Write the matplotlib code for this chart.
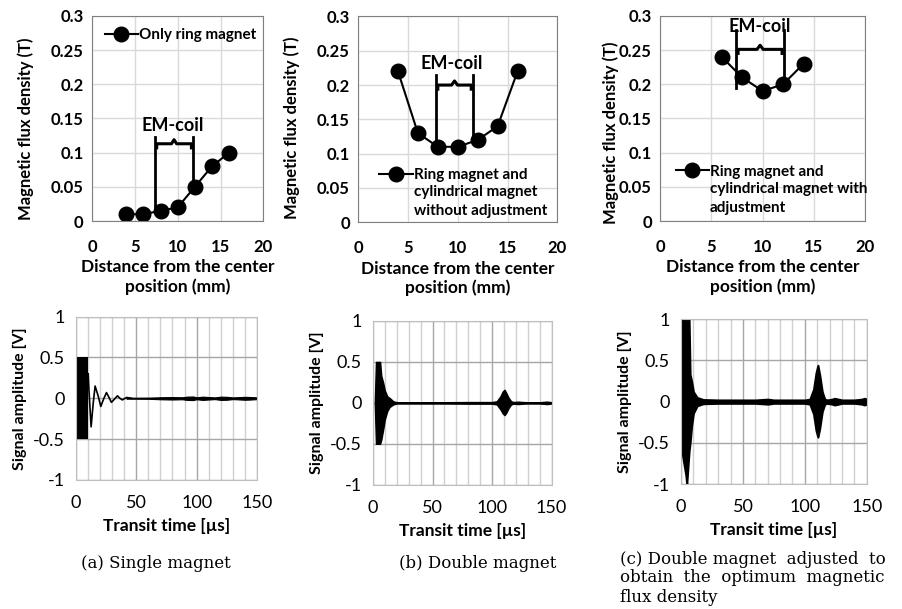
import matplotlib
matplotlib.use("Agg")
import matplotlib.pyplot as plt
from matplotlib.ticker import MultipleLocator, FuncFormatter

SANS = "Lato"
SERIF = "DejaVu Serif"

# ---- top row: flux density vs distance ----
dist_a = [4, 6, 8, 10, 12, 14, 16]
flux_a = [0.01, 0.01, 0.015, 0.02, 0.05, 0.08, 0.10]
dist_b = [4, 6, 8, 10, 12, 14, 16]
flux_b = [0.22, 0.13, 0.11, 0.11, 0.12, 0.14, 0.22]
dist_c = [6, 8, 10, 12, 14]
flux_c = [0.24, 0.21, 0.19, 0.20, 0.23]

labels_top = [["Only ring magnet"],
              ["Ring magnet and", "cylindrical magnet", "without adjustment"],
              ["Ring magnet and", "cylindrical magnet with", "adjustment"]]

# EM-coil bracket: left x, right x, brace y, top y, left bottom y, right bottom y, text x, text y
coil_a = (7.35, 11.8, 0.113, 0.123, 0.016, 0.05, 9.4, 0.14)
coil_b = (7.8, 11.55, 0.200, 0.214, 0.110, 0.119, 9.4, 0.232)
coil_c = (7.4, 12.1, 0.251, 0.279, 0.194, 0.201, 9.7, 0.285)

# ---- bottom row: signal envelopes ----
burst_a_t = [0.3, 10.3]
burst_a_up = [0.5, 0.5]
burst_a_lo = [-0.5, -0.5]
ring_a_t = [10.3, 10.9, 12.7, 14.5, 16.0, 18.5, 20.7, 23.0, 25.4, 27.5, 29.5, 32.0,
            34.5, 36.5, 38.5, 42.0, 46.0]
ring_a_v = [0.3, 0.1, -0.35, -0.05, 0.15, 0.03, -0.10, -0.01, 0.07, 0.01, -0.05, -0.01,
            0.03, 0.0, -0.02, 0.01, 0.0]
noise_a_t = [42, 60, 70, 80, 88, 92, 97, 100, 105, 110, 115, 120, 125, 130, 140, 145, 150]
noise_a_up = [0.004, 0.006, 0.012, 0.015, 0.012, 0.02, 0.022, 0.012, 0.02, 0.015,
              0.01, 0.02, 0.018, 0.01, 0.018, 0.015, 0.01]
noise_a_lo = [-0.004, -0.006, -0.012, -0.015, -0.012, -0.02, -0.022, -0.012, -0.02, -0.015,
              -0.01, -0.02, -0.018, -0.01, -0.018, -0.015, -0.01]

sig_b_t = [1.5, 2.5, 6.0, 7.0, 8.5, 10.0, 12.0, 14.0, 17.0, 20.0, 60, 80, 100, 104, 107,
           109, 110.5, 112, 114, 116, 118, 122, 126, 130, 140, 146, 148, 150]
sig_b_up = [0.0, 0.5, 0.5, 0.33, 0.25, 0.15, 0.08, 0.06, 0.02, 0.008, 0.008, 0.01, 0.01,
            0.02, 0.08, 0.14, 0.16, 0.12, 0.06, 0.02, 0.01, 0.015, 0.01, 0.008, 0.008,
            0.015, 0.012, 0.008]
sig_b_lo = [0.0, -0.5, -0.5, -0.45, -0.33, -0.2, -0.1, -0.05, -0.02, -0.008, -0.008, -0.01,
            -0.01, -0.02, -0.08, -0.13, -0.15, -0.12, -0.06, -0.02, -0.01, -0.015, -0.01,
            -0.008, -0.008, -0.015, -0.012, -0.008]

sig_c_t = [0.4, 1.0, 4.0, 4.6, 6.5, 7.3, 8.5, 10.0, 13.0, 18.0, 30, 60, 70, 75, 90, 100,
           104, 107, 109, 110.5, 112, 114, 116, 118, 122, 124, 130, 140, 146, 148, 150]
sig_c_up = [0.6, 1.0, 1.0, 1.0, 1.0, 0.33, 0.25, 0.12, 0.05, 0.025, 0.02, 0.02, 0.03, 0.02,
            0.02, 0.02, 0.03, 0.15, 0.35, 0.44, 0.32, 0.12, 0.03, 0.02, 0.03, 0.04, 0.02,
            0.02, 0.03, 0.04, 0.03]
sig_c_lo = [-0.4, -0.63, -0.9, -1.0, -0.6, -0.5, -0.3, -0.14, -0.05, -0.025, -0.02, -0.02,
            -0.03, -0.02, -0.02, -0.02, -0.03, -0.15, -0.35, -0.43, -0.32, -0.12, -0.03,
            -0.02, -0.03, -0.04, -0.02, -0.02, -0.03, -0.04, -0.03]

captions = ["(a) Single magnet", "(b) Double magnet"]
caption_c = ["(c) Double magnet  adjusted  to",
             "obtain  the  optimum  magnetic",
             "flux density"]


def fmt_num(v, pos):
    s = "%g" % v
    return "0" if s in ("-0", "0") else s


def style_top(ax, series, label_lines, coil, leg_loc, leg_anchor, ylab_xy):
    x, y = series
    ax.plot(x, y, color="black", lw=1.5, marker="o", ms=10.5, label=label_lines[0])
    ax.set_xlim(0, 20)
    ax.set_ylim(0, 0.3)
    ax.xaxis.set_major_locator(MultipleLocator(5))
    ax.yaxis.set_major_locator(MultipleLocator(0.05))
    ax.yaxis.set_major_formatter(FuncFormatter(fmt_num))
    ax.grid(True, color="#d9d9d9", lw=1)
    ax.set_axisbelow(True)
    for sp in ax.spines.values():
        sp.set_color("#808080")
    ax.tick_params(length=0, labelsize=12, pad=6)
    ax.tick_params(axis="x", pad=13)
    for t in ax.get_xticklabels() + ax.get_yticklabels():
        t.set_fontweight("bold")
        t.set_fontfamily(SANS)
    ax.set_ylabel("Magnetic flux density (T)", fontsize=12, fontweight="bold", family=SANS)
    ax.yaxis.set_label_coords(*ylab_xy)
    ax.set_xlabel("Distance from the center\nposition (mm)", fontsize=12.5,
                  fontweight="bold", family=SANS, labelpad=3)

    xl, xr, yb, yt, yl, yr, tx, ty = coil
    ax.plot([xl, xl], [yl, yt], color="black", lw=2)
    ax.plot([xr, xr], [yr, yt], color="black", lw=2)
    xm = (xl + xr) / 2
    d = 0.006
    ax.plot([xl + 0.2, xl + 0.2, xm - 0.3, xm, xm + 0.3, xr - 0.2, xr - 0.2],
            [yb - d, yb, yb, yb + d, yb, yb, yb - d], color="black", lw=2.2)
    ax.text(tx, ty, "EM-coil", ha="center", va="center", fontsize=13,
            fontweight="bold", family=SANS)

    leg = ax.legend(loc=leg_loc, bbox_to_anchor=leg_anchor, frameon=False,
                    prop={"family": SANS, "weight": "bold", "size": 11},
                    handlelength=2.2, handletextpad=0.05, borderaxespad=0.2)
    return leg


def add_legend_lines(ax, leg, lines):
    # remaining lines of a wrapped legend label, under the first one
    if not lines:
        return
    fig.canvas.draw()
    bb = leg.get_texts()[0].get_window_extent().transformed(ax.transAxes.inverted())
    step = bb.height * 1.3
    for i, line in enumerate(lines):
        ax.text(bb.x0, bb.y0 - 0.25 * bb.height - step * i, line, transform=ax.transAxes,
                ha="left", va="top", fontsize=11, fontweight="bold", family=SANS)


def style_bottom(ax):
    ax.set_xlim(0, 150)
    ax.set_ylim(-1, 1)
    ax.xaxis.set_major_locator(MultipleLocator(50))
    ax.xaxis.set_minor_locator(MultipleLocator(10))
    ax.yaxis.set_major_locator(MultipleLocator(0.5))
    ax.yaxis.set_major_formatter(FuncFormatter(fmt_num))
    ax.grid(True, which="major", color="#a6a6a6", lw=1)
    ax.grid(True, which="minor", axis="x", color="#d0d0d0", lw=1)
    ax.set_axisbelow(True)
    for sp in ax.spines.values():
        sp.set_color("#bfbfbf")
    ax.tick_params(which="both", length=0, labelsize=13, pad=8)
    ax.tick_params(axis="x", which="both", pad=11)
    for t in ax.get_xticklabels() + ax.get_yticklabels():
        t.set_fontfamily(SANS)
    ax.set_ylabel("Signal amplitude [V]", fontsize=11.5, fontweight="bold", family=SANS,
                  labelpad=4)
    ax.set_xlabel("Transit time [µs]", fontsize=12.5, fontweight="bold", family=SANS,
                  labelpad=5)


fig = plt.figure(figsize=(9.02, 6.09), dpi=100)

ax_a = fig.add_axes((0.102, 0.637, 0.19, 0.337))
ax_b = fig.add_axes((0.397, 0.635, 0.221, 0.338))
ax_c = fig.add_axes((0.732, 0.637, 0.227, 0.337))

leg_a = style_top(ax_a, (dist_a, flux_a), labels_top[0], coil_a, "upper left",
                  (0.02, 0.985), (-0.34, 0.45))
leg_b = style_top(ax_b, (dist_b, flux_b), labels_top[1], coil_b, "center left",
                  (0.06, 0.23), (-0.29, 0.46))
leg_c = style_top(ax_c, (dist_c, flux_c), labels_top[2], coil_c, "center left",
                  (0.03, 0.24), (-0.20, 0.43))

sa = fig.add_axes((0.084, 0.212, 0.201, 0.268))
sb = fig.add_axes((0.4135, 0.204, 0.198, 0.269))
sc = fig.add_axes((0.755, 0.205, 0.206, 0.271))

for ax in (sa, sb, sc):
    style_bottom(ax)

sa.fill_between(burst_a_t, burst_a_lo, burst_a_up, color="black", lw=0)
sa.plot(ring_a_t, ring_a_v, color="black", lw=1.2)
sa.fill_between(noise_a_t, noise_a_lo, noise_a_up, color="black", lw=0.8)
sa.plot([noise_a_t[0], noise_a_t[-1]], [0, 0], color="black", lw=1)

sb.fill_between(sig_b_t, sig_b_lo, sig_b_up, color="black", lw=1)
sc.fill_between(sig_c_t, sig_c_lo, sig_c_up, color="black", lw=1.5)

fig.text(156 / 902, 1 - 563 / 609, captions[0], ha="center", va="center",
         fontsize=12, family=SERIF)
fig.text(478 / 902, 1 - 563 / 609, captions[1], ha="center", va="center",
         fontsize=12, family=SERIF)
for i, line in enumerate(caption_c):
    fig.text(620 / 902, 1 - (559 + 19 * i) / 609, line, ha="left", va="center",
             fontsize=12, family=SERIF)

add_legend_lines(ax_b, leg_b, labels_top[1][1:])
add_legend_lines(ax_c, leg_c, labels_top[2][1:])

fig.savefig("out.png", dpi=100)
